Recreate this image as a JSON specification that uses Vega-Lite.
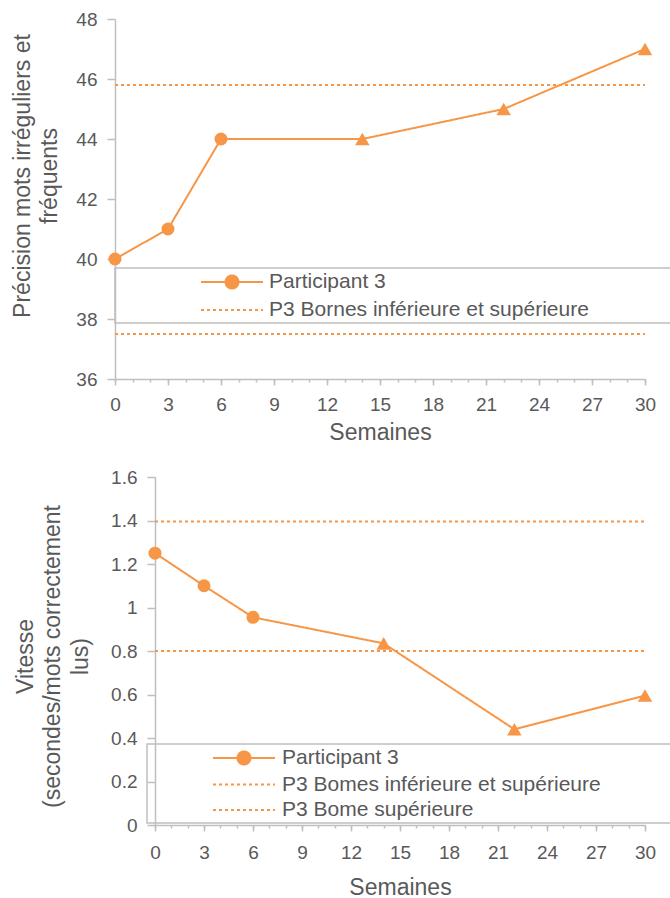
{
  "$schema": "https://vega.github.io/schema/vega-lite/v6.json",
  "background": "white",
  "padding": {"left": 10, "top": 10, "right": 0, "bottom": 0},
  "spacing": 24,
  "config": {
    "font": "Liberation Sans",
    "view": {"stroke": null},
    "axis": {
      "domainColor": "#bfbfbf", "domainWidth": 1.5,
      "tickColor": "#bfbfbf", "tickWidth": 1.5,
      "labelColor": "#595959", "labelFont": "Liberation Sans", "labelFontSize": 19,
      "titleColor": "#595959", "titleFont": "Liberation Sans", "titleFontSize": 23, "titleFontWeight": "normal",
      "grid": false, "labelFlush": false
    }
  },
  "datasets": {
    "top": [
      {"series": "Participant 3", "line": "p", "phase": "A", "week": 0, "value": 40},
      {"series": "Participant 3", "line": "p", "phase": "A", "week": 3, "value": 41},
      {"series": "Participant 3", "line": "p", "phase": "A", "week": 6, "value": 44},
      {"series": "Participant 3", "line": "p", "phase": "B", "week": 14, "value": 44},
      {"series": "Participant 3", "line": "p", "phase": "B", "week": 22, "value": 45},
      {"series": "Participant 3", "line": "p", "phase": "B", "week": 30, "value": 47},
      {"series": "P3 Bornes inférieure et supérieure", "line": "haut", "phase": "", "week": 0, "value": 45.8},
      {"series": "P3 Bornes inférieure et supérieure", "line": "haut", "phase": "", "week": 30, "value": 45.8},
      {"series": "P3 Bornes inférieure et supérieure", "line": "bas", "phase": "", "week": 0, "value": 37.5},
      {"series": "P3 Bornes inférieure et supérieure", "line": "bas", "phase": "", "week": 30, "value": 37.5}
    ],
    "bottom": [
      {"series": "Participant 3", "line": "p", "phase": "A", "week": 0, "value": 1.25},
      {"series": "Participant 3", "line": "p", "phase": "A", "week": 3, "value": 1.1},
      {"series": "Participant 3", "line": "p", "phase": "A", "week": 6, "value": 0.955},
      {"series": "Participant 3", "line": "p", "phase": "B", "week": 14, "value": 0.835},
      {"series": "Participant 3", "line": "p", "phase": "B", "week": 22, "value": 0.44},
      {"series": "Participant 3", "line": "p", "phase": "B", "week": 30, "value": 0.595},
      {"series": "P3 Bomes inférieure et supérieure", "line": "bas", "phase": "", "week": 0, "value": 0.8},
      {"series": "P3 Bomes inférieure et supérieure", "line": "bas", "phase": "", "week": 30, "value": 0.8},
      {"series": "P3 Bome supérieure", "line": "haut", "phase": "", "week": 0, "value": 1.395},
      {"series": "P3 Bome supérieure", "line": "haut", "phase": "", "week": 30, "value": 1.395}
    ]
  },
  "vconcat": [
    {
      "width": 530,
      "height": 360,
      "data": {"name": "top"},
      "layer": [
        {
          "mark": {"type": "line", "color": "#F79646", "strokeWidth": 2},
          "encoding": {
            "x": {
              "field": "week", "type": "quantitative",
              "scale": {"domain": [0, 30], "nice": false},
              "axis": {
                "orient": "bottom",
                "title": "Semaines",
                "values": [0, 3, 6, 9, 12, 15, 18, 21, 24, 27, 30],
                "tickSize": 6,
                "labelPadding": 10,
                "titlePadding": 7
              }
            },
            "y": {
              "field": "value", "type": "quantitative",
              "scale": {"domain": [36, 48], "nice": false, "zero": false},
              "axis": {
                "title": ["Précision mots irréguliers et", "fréquents"],
                "values": [36, 38, 40, 42, 44, 46, 48],
                "tickSize": 8,
                "labelPadding": 10,
                "titleAngle": -90,
                "titleX": -93,
                "titleY": 156.5,
                "titleAlign": "center",
                "titleBaseline": "middle",
                "titleLineHeight": 27
              }
            },
            "detail": {"field": "line"},
            "strokeDash": {
              "field": "series", "type": "nominal",
              "scale": {"domain": ["Participant 3", "P3 Bornes inférieure et supérieure"], "range": [[1, 0], [3, 3]]},
              "legend": {
                "orient": "none", "legendX": 0, "legendY": 249,
                "title": "————", "titleOrient": "right", "titleFontSize": 20, "titleOpacity": 0, "titlePadding": 0, "titleColor": "white",
                "padding": 3, "strokeColor": "#bfbfbf",
                "symbolSize": 400, "symbolStrokeWidth": 2, "symbolStrokeColor": "#F79646",
                "symbolOffset": 103, "labelOffset": 26,
                "labelFont": "Liberation Sans", "labelFontSize": 21, "labelColor": "#595959", "labelLimit": 700,
                "rowPadding": 6,
                "encode": {
                  "symbols": {
                    "update": {
                      "shape": {"signal": "datum.value === 'Participant 3' ? 'M-3.1,0H3.1M-0.65,0A0.65,0.65,0,1,1,0.65,0A0.65,0.65,0,1,1,-0.65,0Z' : 'M-3.1,0H3.1'"},
                      "fill": {"signal": "datum.value === 'Participant 3' ? '#F79646' : 'transparent'"},
                      "stroke": {"value": "#F79646"},
                      "strokeWidth": {"value": 2}
                    }
                  },
                  "legend": {"update": {"strokeWidth": {"value": 1.5}}}
                }
              }
            }
          }
        },
        {
          "transform": [{"filter": "datum.series === 'Participant 3'"}],
          "mark": {"type": "point", "filled": true, "color": "#F79646", "opacity": 1},
          "encoding": {
            "x": {
              "field": "week", "type": "quantitative",
              "axis": {
                "orient": "bottom", "title": null, "labels": false, "domain": false,
                "values": [0,1,2,3,4,5,6,7,8,9,10,11,12,13,14,15,16,17,18,19,20,21,22,23,24,25,26,27,28,29,30],
                "tickSize": 3
              }
            },
            "y": {"field": "value", "type": "quantitative"},
            "shape": {"field": "phase", "type": "nominal", "scale": {"domain": ["A", "B"], "range": ["circle", "triangle-up"]}, "legend": null},
            "size": {"field": "phase", "type": "nominal", "scale": {"domain": ["A", "B"], "range": [169, 210]}, "legend": null}
          }
        }
      ],
      "resolve": {"axis": {"x": "independent"}}
    },
    {
      "width": 530,
      "height": 348,
      "data": {"name": "bottom"},
      "layer": [
        {
          "mark": {"type": "line", "color": "#F79646", "strokeWidth": 2},
          "encoding": {
            "x": {
              "field": "week", "type": "quantitative",
              "scale": {"domain": [0, 30], "nice": false, "range": [40, 530]},
              "axis": {
                "orient": "bottom",
                "title": "Semaines",
                "values": [0, 3, 6, 9, 12, 15, 18, 21, 24, 27, 30],
                "tickSize": 6,
                "labelPadding": 12,
                "titlePadding": 14
              }
            },
            "y": {
              "field": "value", "type": "quantitative",
              "scale": {"domain": [0, 1.6], "nice": false, "zero": false},
              "axis": {
                "title": ["Vitesse", "(secondes/mots correctement", "lus)"],
                "values": [0, 0.2, 0.4, 0.6, 0.8, 1, 1.2, 1.4, 1.6],
                "format": "~g",
                "offset": -40,
                "tickSize": 8,
                "labelPadding": 10,
                "titleAngle": -90,
                "titleX": -130,
                "titleY": 179,
                "titleAlign": "center",
                "titleBaseline": "middle",
                "titleLineHeight": 27.5
              }
            },
            "detail": {"field": "line"},
            "strokeDash": {
              "field": "series", "type": "nominal",
              "scale": {"domain": ["Participant 3", "P3 Bomes inférieure et supérieure", "P3 Bome supérieure"], "range": [[1, 0], [3, 3], [3, 3]]},
              "legend": {
                "orient": "none", "legendX": 32, "legendY": 267,
                "title": "———", "titleOrient": "right", "titleFontSize": 20, "titleOpacity": 0, "titlePadding": 7, "titleColor": "white",
                "padding": 3, "strokeColor": "#bfbfbf",
                "symbolSize": 400, "symbolStrokeWidth": 2, "symbolStrokeColor": "#F79646",
                "symbolOffset": 83, "labelOffset": 27,
                "labelFont": "Liberation Sans", "labelFontSize": 21, "labelColor": "#595959", "labelLimit": 700,
                "rowPadding": 4.5,
                "encode": {
                  "symbols": {
                    "update": {
                      "shape": {"signal": "datum.value === 'Participant 3' ? 'M-3.1,0H3.1M-0.65,0A0.65,0.65,0,1,1,0.65,0A0.65,0.65,0,1,1,-0.65,0Z' : 'M-3.1,0H3.1'"},
                      "fill": {"signal": "datum.value === 'Participant 3' ? '#F79646' : 'transparent'"},
                      "stroke": {"value": "#F79646"},
                      "strokeWidth": {"value": 2}
                    }
                  },
                  "legend": {"update": {"strokeWidth": {"value": 1.5}}}
                }
              }
            }
          }
        },
        {
          "transform": [{"filter": "datum.series === 'Participant 3'"}],
          "mark": {"type": "point", "filled": true, "color": "#F79646", "opacity": 1},
          "encoding": {
            "x": {
              "field": "week", "type": "quantitative",
              "axis": {
                "orient": "bottom", "title": null, "labels": false, "domain": false,
                "values": [0,1,2,3,4,5,6,7,8,9,10,11,12,13,14,15,16,17,18,19,20,21,22,23,24,25,26,27,28,29,30],
                "tickSize": 3
              }
            },
            "y": {"field": "value", "type": "quantitative"},
            "shape": {"field": "phase", "type": "nominal", "scale": {"domain": ["A", "B"], "range": ["circle", "triangle-up"]}, "legend": null},
            "size": {"field": "phase", "type": "nominal", "scale": {"domain": ["A", "B"], "range": [169, 210]}, "legend": null}
          }
        }
      ],
      "resolve": {"axis": {"x": "independent"}}
    }
  ],
  "resolve": {
    "scale": {"x": "independent", "y": "independent", "strokeDash": "independent", "shape": "independent", "size": "independent"},
    "legend": {"strokeDash": "independent"}
  }
}
